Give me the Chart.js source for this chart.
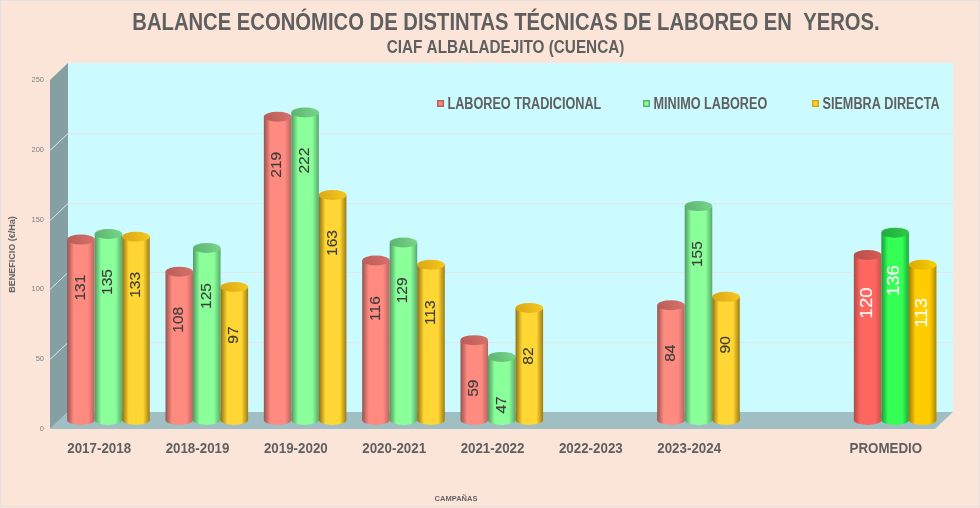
<!DOCTYPE html>
<html>
<head>
<meta charset="utf-8">
<style>html,body{margin:0;padding:0;background:#fbe5d9}canvas{display:block}</style>
<script src="https://cdn.jsdelivr.net/npm/chart.js@4"></script>
</head>
<body>
<canvas id="chart" width="980" height="508"></canvas>
<script>
// ---------- data ----------
const campaigns = ['2017-2018','2018-2019','2019-2020','2020-2021','2021-2022','2022-2023','2023-2024','','PROMEDIO'];
const tradicional = [131,108,219,116,59,null,84,null,120];
const minimo      = [135,125,222,129,47,null,155,null,136];
const siembra     = [133,97,163,113,82,null,90,null,113];

const SANS = '"Liberation Sans"';
const TEXT_GREY = '#5f5f5f';
const DEPTH_X = 18, DEPTH_Y = 17;   // back wall offset
const BAR_DX = 9.3, TOP_DY = 6.5, BASE_DY = 9;  // bars stand mid floor
const AVG_INDEX = 8;

// edge, centre, far edge, cap dark, cap light
const palette = [
  { normal:['#96534e','#ff8a80','#b9655e','#b85c57','#d8726b'], avg:['#b04a46','#ff6660','#c9524d','#b84f4b','#d65b56'] },
  { normal:['#4f9a62','#8aff9a','#58aa6c','#5cb270','#78d78a'], avg:['#1c9a38','#33ff55','#1fa83e','#22a83f','#2ecb4c'] },
  { normal:['#8f7010','#ffd633','#9d7b14','#d9a514','#f7c91f'], avg:['#a67c00','#ffcc00','#b08600','#dca900','#fbd000'] }
];

// no condensed font is installed, so squeeze Liberation Sans by hand
function narrowText(ctx, text, x, y, sx, font, color, align) {
  ctx.save();
  ctx.translate(x, y);
  ctx.scale(sx, 1);
  ctx.font = font;
  ctx.fillStyle = color;
  ctx.textAlign = align || 'center';
  ctx.textBaseline = 'middle';
  ctx.fillText(text, 0, 0);
  ctx.restore();
}

function drawWalls(chart) {
  const { ctx, chartArea: a } = chart;
  const y = chart.scales.y;
  ctx.save();
  // back wall
  ctx.fillStyle = '#ccfbff';
  ctx.fillRect(a.left + DEPTH_X, a.top - DEPTH_Y, a.right - a.left, a.bottom - a.top);
  // side wall
  ctx.fillStyle = '#85a0a3';
  ctx.beginPath();
  ctx.moveTo(a.left, a.top);
  ctx.lineTo(a.left + DEPTH_X, a.top - DEPTH_Y);
  ctx.lineTo(a.left + DEPTH_X, a.bottom - DEPTH_Y);
  ctx.lineTo(a.left, a.bottom);
  ctx.fill();
  // floor
  ctx.fillStyle = '#9fbfc2';
  ctx.beginPath();
  ctx.moveTo(a.left, a.bottom);
  ctx.lineTo(a.left + DEPTH_X, a.bottom - DEPTH_Y);
  ctx.lineTo(a.right + DEPTH_X, a.bottom - DEPTH_Y);
  ctx.lineTo(a.right, a.bottom);
  ctx.fill();
  // grid lines, back wall + diagonal on the side
  ctx.strokeStyle = '#dfe9e8';
  ctx.lineWidth = 1;
  y.ticks.forEach(t => {
    if (t.value === 0 || t.value === 250) return;
    const py = Math.round(y.getPixelForValue(t.value)) + 0.5;
    ctx.beginPath();
    ctx.moveTo(a.left, py);
    ctx.lineTo(a.left + DEPTH_X, py - DEPTH_Y);
    ctx.lineTo(a.right + DEPTH_X, py - DEPTH_Y);
    ctx.stroke();
  });
  ctx.restore();
}

function drawCylinder(ctx, bar, cols, value, avg) {
  const left = bar.x - bar.width / 2 + BAR_DX;
  const right = left + bar.width;
  const cx = (left + right) / 2;
  const top = bar.y - TOP_DY;
  const bottom = bar.base - BASE_DY;
  const rx = bar.width / 2, ry = 5;

  const body = ctx.createLinearGradient(left, 0, right, 0);
  body.addColorStop(0, cols[0]);
  body.addColorStop(0.24, cols[1]);
  body.addColorStop(0.76, cols[1]);
  body.addColorStop(1, cols[2]);
  ctx.fillStyle = body;
  ctx.beginPath();
  ctx.moveTo(left, top);
  ctx.lineTo(left, bottom);
  ctx.ellipse(cx, bottom, rx, ry, 0, Math.PI, 0, true);
  ctx.lineTo(right, top);
  ctx.closePath();
  ctx.fill();

  const cap = ctx.createLinearGradient(left, top + ry, right, top - ry);
  cap.addColorStop(0, cols[3]);
  cap.addColorStop(1, cols[4]);
  ctx.fillStyle = cap;
  ctx.beginPath();
  ctx.ellipse(cx, top, rx, ry, 0, 0, Math.PI * 2);
  ctx.fill();

  // value, rotated, a fixed distance under the cap
  ctx.save();
  ctx.translate(cx, top + 48);
  ctx.rotate(-Math.PI / 2);
  ctx.scale(1, avg ? 0.85 : 0.9);
  ctx.textAlign = 'center';
  ctx.textBaseline = 'middle';
  ctx.font = (avg ? '18.5px ' : '15.5px ') + SANS;
  ctx.fillStyle = avg ? '#ffffff' : '#3d3d3d';
  ctx.strokeStyle = ctx.fillStyle;
  ctx.lineWidth = 0.15;
  ctx.fillText(String(value), 0, 0);
  ctx.strokeText(String(value), 0, 0);
  ctx.restore();
}

const scene3d = {
  id: 'scene3d',
  beforeDraw(chart) {
    const { ctx, width, height } = chart;
    ctx.save();
    ctx.fillStyle = '#fbe5d9';
    ctx.fillRect(0, 0, width, height);
    ctx.strokeStyle = '#e3e0de';
    ctx.strokeRect(0.5, 0.5, width - 1, height - 2);
    ctx.restore();
  },
  beforeDatasetsDraw(chart) {
    const { ctx } = chart;
    drawWalls(chart);
    // red first, so each next bar sits over its neighbour
    chart.data.datasets.forEach((ds, d) => {
      chart.getDatasetMeta(d).data.forEach((bar, i) => {
        if (ds.data[i] == null) return;
        const avg = i === AVG_INDEX;
        const cols = avg ? palette[d].avg : palette[d].normal;
        drawCylinder(ctx, bar, cols, ds.data[i], avg);
      });
    });
    return false;
  },
  afterDraw(chart) {
    const { ctx } = chart;
    // titles
    narrowText(ctx, 'BALANCE ECONÓMICO DE DISTINTAS TÉCNICAS DE LABOREO EN  YEROS.', 506, 24, 0.88, 'bold 23px ' + SANS, TEXT_GREY);
    narrowText(ctx, 'CIAF ALBALADEJITO (CUENCA)', 505.5, 48, 0.85, 'bold 18px ' + SANS, TEXT_GREY);
    // category labels under the slots
    campaigns.forEach((c, i) => {
      narrowText(ctx, c, chart.scales.x.getPixelForTick(i), 449, 0.86, 'bold 15.5px ' + SANS, TEXT_GREY);
    });
    // legend
    const legendX = [437, 643, 812];
    chart.data.datasets.forEach((ds, d) => {
      const c = palette[d].normal;
      ctx.fillStyle = c[3];
      ctx.fillRect(legendX[d], 100, 7, 7);
      ctx.fillStyle = c[1];
      ctx.fillRect(legendX[d] + 1.5, 101.5, 4, 4);
      narrowText(ctx, ds.label, legendX[d] + 10.5, 105, 0.79, 'bold 16px ' + SANS, TEXT_GREY, 'left');
    });
    // x axis caption sits left of the plot centre
    narrowText(ctx, 'CAMPAÑAS', 456, 499, 1, 'bold 7.5px ' + SANS, '#666');
  }
};

new Chart(document.getElementById('chart'), {
  type: 'bar',
  data: {
    labels: campaigns,
    datasets: [
      { label: 'LABOREO TRADICIONAL', data: tradicional, backgroundColor: '#ff8a80' },
      { label: 'MINIMO LABOREO', data: minimo, backgroundColor: '#8aff9a' },
      { label: 'SIEMBRA DIRECTA', data: siembra, backgroundColor: '#ffd633' }
    ]
  },
  options: {
    responsive: false,
    animation: false,
    categoryPercentage: 0.84,
    barPercentage: 1,
    layout: { padding: { top: 80, right: 45 } },
    plugins: {
      legend: { display: false },
      tooltip: { enabled: false }
    },
    scales: {
      x: {
        grid: { display: false },
        border: { display: false },
        ticks: { display: false },
        afterFit(s) { s.height = 79; }
      },
      y: {
        min: 0, max: 250,
        grid: { display: false, tickLength: 0 },
        border: { display: false },
        ticks: {
          stepSize: 50, padding: 6, color: '#808080',
          font: { family: SANS, size: 7.5 }
        },
        title: {
          display: true, text: 'BENEFICIO (€/Ha)', color: '#666',
          font: { family: SANS, size: 9, weight: 'bold' },
          padding: { top: 7, bottom: 0 }
        },
        afterFit(s) { s.width = 50; }
      }
    }
  },
  plugins: [scene3d]
});
</script>
</body>
</html>
